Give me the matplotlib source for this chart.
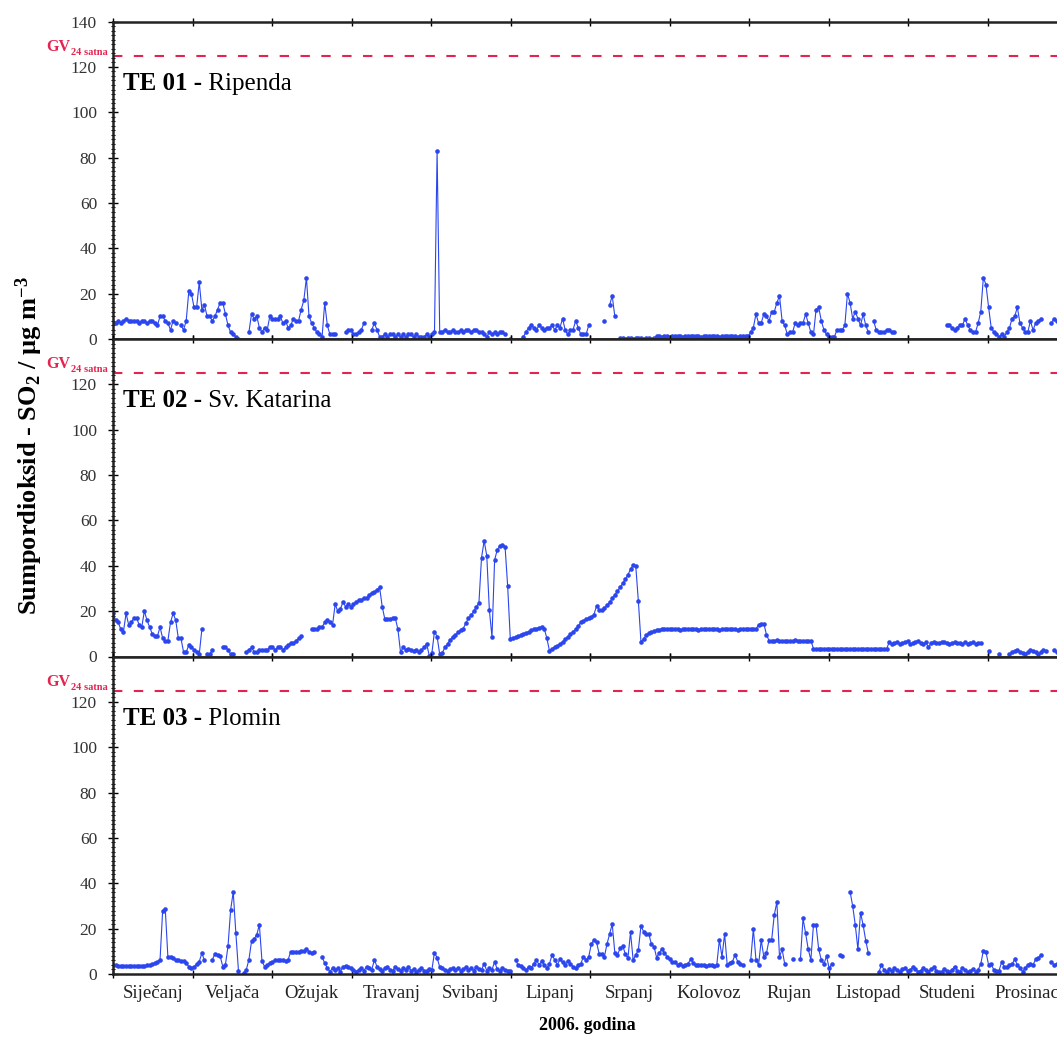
#!/usr/bin/env python3
"""Daily SO2 at three thermal power plant stations, 2006, stacked panels."""
import numpy as np
import matplotlib

matplotlib.use("Agg")
import matplotlib.pyplot as plt
from matplotlib.ticker import MultipleLocator, FixedLocator, NullFormatter, NullLocator
from matplotlib.transforms import blended_transform_factory

nan = np.nan

MONTHS = ["Siječanj", "Veljača", "Ožujak", "Travanj", "Svibanj", "Lipanj",
          "Srpanj", "Kolovoz", "Rujan", "Listopad", "Studeni", "Prosinac"]
STATION_CODES = ["TE 01", "TE 02", "TE 03"]
STATION_NAMES = ["Ripenda", "Sv. Katarina", "Plomin"]
GV_24H = 125  # granicna vrijednost, 24 satna

# daily means, ug/m3, one row per month
te01 = [
    7, 7, 8, 7, 8, 9, 8, 8, 8, 8, 7, 8, 8, 7, 8, 8, 7, 6, 10, 10, 8, 7, 4, 8, 7, nan, 6, 4, 8, 21, 20,
    14, 14, 25, 13, 15, 10, 10, 8, 10, 13, 16, 16, 11, 6, 3, 2, 1, 0, nan, nan, nan, 3, 11, 9, 10, 5, 3, 5,
    4, 10, 9, 9, 9, 10, 7, 8, 5, 6, 9, 8, 8, 13, 17, 27, 10, 7, 5, 3, 2, 1, 16, 6, 2, 2, 2, nan, nan, nan, 3,
    4, 4, 2, 2, 3, 4, 7, nan, nan, 4, 7, 4, 1, 1, 2, 1, 2, 2, 1, 2, 1, 2, 1, 2, 2, 1, 2, 1, 1, 1,
    2, 1, 2, 3, 83, 3, 3, 4, 3, 3, 4, 3, 3, 4, 3, 4, 4, 3, 4, 4, 3, 3, 2, 1, 3, 2, 3, 2, 3, 3, 2,
    nan, 0, nan, nan, nan, nan, 1, 3, 5, 6, 5, 4, 6, 5, 4, 5, 5, 6, 4, 6, 5, 9, 4, 2, 4, 4, 8, 5, 2, 2,
    2, 6, nan, nan, nan, nan, nan, 8, nan, 15, 19, 10, nan, 0.3, 0.3, 0.2, 0.3, 0.3, 0.2, 0.3,
    0.3, 0.3, 0.2, 0.3, 0.3, 0.2, 0.3, 1.2, 1.2, 1.1, 1.2,
    1.2, 1.1, 1.2, 1.2, 1.3, 1.2, 1.1, 1.2, 1.2, 1.2, 1.3, 1.2, 1.2, 1.1, 1.2, 1.2,
    1.2, 1.3, 1.2, 1.2, 1.1, 1.2, 1.2, 1.2, 1.3, 1.2, 1.2, 1.1, 1.2, 1.2, 1.2,
    1.2, 3, 5, 11, 7, 7, 11, 10, 8, 12, 12, 16, 19, 8, 6, 2, 3, 3, 7, 6, 7, 7, 11, 7, 3, 2, 13, 14, 8, 4,
    2, 1, 1, 1, 4, 4, 4, 6, 20, 16, 9, 12, 9, 6, 11, 6, 3, nan, 8, 4, 3, 3, 3, 4, 4, 3, 3, nan, nan, nan, nan,
    nan, nan, nan, nan, nan, nan, nan, nan, nan, nan, nan, nan, nan, nan, nan,
    6, 6, 5, 4, 5, 6, 6, 9, 6, 4, 3, 3, 7, 12, 27,
    24, 14, 5, 3, 2, 1, 2, 1, 3, 5, 9, 10, 14, 7, 5, 3, 3, 8, 4, 7, 8, 9, nan, nan, nan, 7, 9, 8, 9, 8, 9,
]

te02 = [
    19, 16, 15, 12, 11, 19, 14, 15, 17, 17, 14, 13, 20, 16, 13, 10, 9, 9, 13, 8, 7, 7, 15, 19, 16, 8, 8, 2, 2, 5, 4,
    3, 2, 1, 12, nan, 1, 1, 3, nan, nan, nan, 4, 4, 3, 1, 1, nan, nan, nan, nan, 2, 3, 4, 2, 2, 3, 3, 3,
    3, 4, 4, 3, 4, 4, 3, 4, 5, 6, 6, 7, 8, 9, nan, nan, nan, 12, 12, 12, 13, 13, 15, 16, 15, 14, 23, 20, 21, 24, 22,
    23, 22, 23, 24, 25, 25, 26, 26, 27, 28, 28.5, 29.5, 30.5, 22, 16.5, 16.5, 16.5, 17, 17, 12,
    2, 4, 3, 3.5, 3, 2.5, 3, 2, 3, 4,
    5.6, 0.4, 1.5, 11, 8.8, 1, 1.7, 4, 5.6, 7.4, 8.6, 9.3, 10.8, 11.5, 12.3, 14.8, 16.8, 18.2, 20, 21.8,
    23.6, 43.6, 51, 44.5, 20.4, 8.6, 42.5, 47, 48.8, 49.2, 48.5,
    31, 7.9, 8.3, 8.6, 9, 9.4, 10, 10.5, 10.8, 11.5, 12, 12.3, 12.7, 13, 12.3, 8, 2.5, 3.5, 4.2, 4.8,
    5.6, 6.5, 7.5, 8.6, 9.8, 11, 12, 13.5, 15, 15.8,
    16.4, 16.8, 17.5, 18.5, 22.2, 20.7, 20.3, 21.5, 22.5, 24, 25.6, 27.2, 28.8, 30.5, 32.2, 34, 36, 38.5,
    40.2, 40, 24.5, 6.4, 7.8, 9.3, 10.3, 10.8, 11.3, 11.6, 11.8, 12, 12,
    12, 12, 12.1, 12, 12, 11.9, 12, 12, 12, 12.1, 12, 12, 11.9, 12, 12, 12,
    12.1, 12, 12, 12, 11.9, 12, 12, 12, 12.1, 12, 12, 11.9, 12, 12, 12,
    12, 12, 12, 12, 14, 14.5, 14.5, 9.7, 7, 7, 7, 7.1, 7, 7, 6.9, 7, 7, 7, 7.1, 7, 7, 6.9, 7, 7, 7,
    3.5, 3.3, 3.3, 3.2, 3.3,
    3.3, 3.2, 3.3, 3.3, 3.3, 3.2, 3.3, 3.3, 3.3, 3.2, 3.3, 3.3, 3.3, 3.2, 3.3, 3.3, 3.3, 3.2, 3.3, 3.3,
    3.3, 3.2, 3.3, 3.4, 6.4, 5.5, 6, 6.5, 5.5, 6, 6.4,
    6.8, 5.5, 6, 6.5, 7, 6, 5.5, 6.2, 4, 6, 6.5, 6, 5.8, 6.4, 6.5, 6, 5.5, 6, 6.2, 5.8,
    6, 5.5, 6.2, 5.7, 6, 6.2, 5.5, 6, 6, nan,
    nan, 2.5, nan, nan, nan, 1, nan, nan, nan, 1, 2, 2.5, 3, 2, 1.5, 1, 2, 3, 2.5, 2,
    1, 2, 3, 2.5, nan, nan, 3, 2, 2.5, 2, 2,
]

te03 = [
    4, 4, 3.5, 3.5, 3.5, 3.5, 3.5, 3.5, 3.5, 3.5, 3.5, 3.5, 3.5, 4, 4, 4.2, 4.8, 5.5, 6.3, 28,
    28.7, 7.5, 7.5, 7, 6.3, 6.2, 5.6, 5.8, 4.8, 3.3, 2.6,
    3.3, 4.4, 5.5, 9.2, 6, nan, nan, 6.3, 8.9, 8.5, 7.8, 3.3, 4, 12.2, 28.2, 36.2, 18.1, 1.5, nan, 0.4,
    1.9, 6.3, 14.4, 15.4, 17.3, 21.7, 5.6, 3.3,
    4, 4.8, 5.3, 6, 6, 6, 6, 5.6, 6.3, 9.9, 9.9, 9.9, 9.9, 10.2, 10.2, 10.9, 9.9, 9.2, 9.9, nan,
    nan, 7.5, 4.8, 2.6, 1.1, 2.6, 1.9, 2.6, 1.1, 3.3, 3.5,
    3, 2.6, 1.9, 1.1, 1.9, 2.6, 1.5, 3.3, 2.6, 1.9, 6.2, 3.3, 2.2, 1.5, 2.6, 3.3, 1.9, 1.5, 3.1, 2.2,
    1.5, 2.6, 1.9, 3.3, 1.5, 2.2, 1.1, 1.9, 2.6, 1.5,
    1.5, 2.2, 1.9, 9.4, 7.2, 3.1, 2.6, 1.9, 1.5, 2.2, 2.6, 1.9, 2.6, 1.5, 2.2, 3, 1.9, 2.6, 1.5, 3.3,
    2.2, 1.9, 4.6, 1.5, 2.6, 1.9, 5.3, 2.2, 1.5, 2.6, 1.9,
    1.5, 1.5, nan, 6.2, 4, 3.5, 2.6, 1.6, 3.3, 2.6, 4.6, 6.2, 4, 5.6, 4, 2.6, 4.6, 8.4, 6.2, 4,
    6.6, 5.1, 4, 5.9, 4.6, 3.3, 2.6, 4, 4.6, 7.6,
    6.2, 7.6, 13.2, 15, 14, 9, 9, 7.6, 13.2, 17.6, 22, 9.4, 8.4, 11.3, 12.3, 9, 6.9, 18.4, 6.2, 8.4,
    10.6, 21.2, 18.7, 17.6, 17.6, 13.2, 12, 7.2, 9.4, 10.9, 9.4,
    7.6, 6.4, 5.3, 5.3, 4, 4.6, 3.5, 4, 4.6, 6.5, 5, 4, 4, 4, 4, 3.5, 4, 4, 3.5, 4,
    15, 7.6, 17.6, 4, 5, 5.5, 8.4, 5.5, 4.4, 4, nan,
    nan, 6.2, 19.9, 6.2, 4, 15, 7.6, 9.1, 15, 15, 26, 31.8, 7.6, 10.9, 4.4, nan, nan, 6.4, nan, nan,
    6.4, 24.5, 17.9, 10.9, 6.2, 21.6, 21.5, 10.9, 6.2, 4.4,
    7.9, 2.5, 4.4, nan, nan, 8.4, 7.8, nan, nan, 36.3, 30, 21.6, 10.9, 27.1, 21.6, 14.7, 9.2, nan, nan, nan,
    0.7, 4, 1.8, 1.1, 2.2, 1.5, 2.6, 1.9, 1.1, 2.2, 2.6,
    1.5, 1.9, 3, 2.2, 1.1, 1.5, 2.6, 1.9, 1.1, 2.2, 3, 1.5, 0.7, 1.1, 2.2, 1.5, 0.7, 1.9, 3.3, 1.5,
    1.1, 2.6, 1.9, 0.7, 1.5, 2.2, 1.1, 1.9, 4.4, 10.3,
    9.7, 4, 4.4, 1.8, 1.5, 1.5, 5.3, 3.3, 3, 4, 4.4, 6.5, 4, 2.6, 1.1, 2.6, 4, 4.4, 4, 6.5,
    7.1, 8.4, nan, nan, nan, 5.3, 4, 4.5, 5, 4, 4.5,
]

SERIES = [te01, te02, te03]

RED = "#e5234f"
BLUE = "#2b46ee"

plt.rcParams["font.family"] = "Liberation Serif"
plt.rcParams["mathtext.fontset"] = "custom"
plt.rcParams["mathtext.rm"] = "Liberation Serif"
plt.rcParams["mathtext.bf"] = "Liberation Serif:bold"
plt.rcParams["mathtext.it"] = "Liberation Serif:italic"

W, H = 1057, 1043
fig = plt.figure(figsize=(W / 100, H / 100), dpi=100)

# axes box in pixels: left 113, right 1067 (runs past the image edge), panels 317.5 px tall
left = 113 / W
width = 954 / W
panel_h = 317.5 / H
bottoms = [(H - 339) / H, (H - 656.5) / H, (H - 974) / H]

month_len = 365 / 12
month_edges = [i * month_len for i in range(13)]
month_mids = [(i + 0.5) * month_len for i in range(12)]

axes = []
for i, (vals, code, name, bottom) in enumerate(zip(SERIES, STATION_CODES, STATION_NAMES, bottoms)):
    ax = fig.add_axes([left, bottom, width, panel_h])
    axes.append(ax)
    y = np.array(vals, dtype=float)
    x = np.arange(len(y))
    ax.plot(x, y, color=BLUE, lw=0.8, marker="o", ms=3.3, mfc=BLUE, mec=BLUE, mew=0)
    ax.axhline(GV_24H, color=RED, lw=1.5, ls=(0, (4.5, 5.5)))

    ax.set_xlim(0, 365)
    ax.set_ylim(0, 140)
    top = 140 if i == 0 else 120
    ax.yaxis.set_major_locator(FixedLocator(list(range(0, top + 1, 20))))
    ax.yaxis.set_minor_locator(MultipleLocator(2))
    ax.tick_params(axis="y", which="major", direction="inout", length=7, width=1.0,
                   labelsize=12.5, pad=8, labelcolor="#333333")
    ax.tick_params(axis="y", which="minor", direction="inout", length=3.5, width=0.8)

    ax.xaxis.set_major_locator(FixedLocator(month_edges))
    ax.xaxis.set_major_formatter(NullFormatter())
    ax.tick_params(axis="x", which="major", direction="inout", length=6, width=1.0,
                   top=True, bottom=True)
    if i == 2:
        ax.xaxis.set_minor_locator(FixedLocator(month_mids))
        ax.set_xticklabels(MONTHS, minor=True)
        ax.tick_params(axis="x", which="minor", length=0, labelsize=13.5, pad=8,
                       labelcolor="#222222")
    else:
        ax.xaxis.set_minor_locator(NullLocator())

    for side in ["left", "top", "bottom"]:
        ax.spines[side].set_linewidth(1.8)
        ax.spines[side].set_color("#222222")
    ax.spines["right"].set_visible(False)

    # station title: bold code, regular name
    t1 = ax.text(0.0105, 110, code + " -", transform=blended_transform_factory(ax.transAxes, ax.transData),
                 fontsize=18, fontweight="bold", va="baseline", ha="left")
    ax.annotate(" " + name, xy=(1, 0), xycoords=t1, fontsize=18, va="bottom", ha="left")

    # GV label left of the axis
    tr = blended_transform_factory(ax.transAxes, ax.transData)
    ax.text(-0.045, 127.2, "GV", transform=tr, color=RED, fontsize=11.5, fontweight="bold",
            ha="right", va="baseline", clip_on=False)
    ax.text(-0.0055, 125.4, "24 satna", transform=tr, color=RED, fontsize=7.5, fontweight="bold",
            ha="right", va="baseline", clip_on=False)

fig.text(0.028, 0.573, r"Sumpordioksid - SO$_\mathbf{2}$ / µg m$^\mathbf{-3}$",
         rotation=90, fontsize=19, fontweight="bold", ha="center", va="center")
fig.text(0.556, 0.0125, "2006. godina", fontsize=13, fontweight="bold", ha="center", va="baseline")

fig.savefig("out.png", dpi=100)
